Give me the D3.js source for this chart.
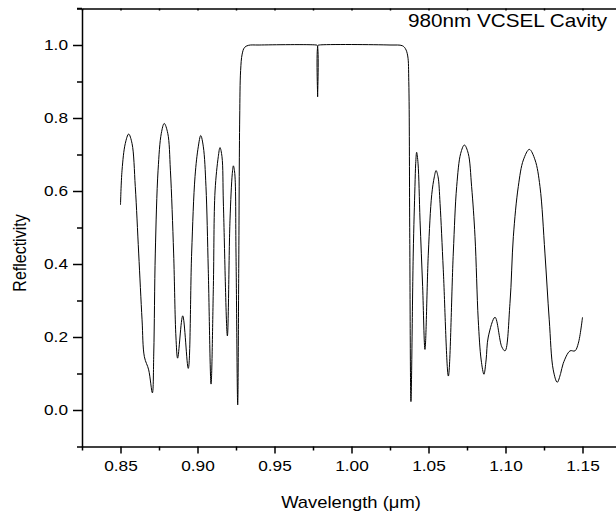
<!DOCTYPE html>
<html>
<head>
<meta charset="utf-8">
<script src="https://cdn.jsdelivr.net/npm/d3@7"></script>
<style>
  body { margin: 0; background: #fff; }
  svg text { font-family: "Liberation Sans", Arial, sans-serif; fill: #000; }
</style>
</head>
<body>
<svg id="chart" width="616" height="521"></svg>
<script>
// wavelength (um) and reflectivity
const wl = [
  0.8500, 0.8510, 0.8531, 0.8553, 0.8575, 0.8596, 0.8618, 0.8640, 0.8655, 0.8683,
  0.8707, 0.8716, 0.8726, 0.8744, 0.8765, 0.8784, 0.8807, 0.8824, 0.8845, 0.8860,
  0.8871, 0.8904, 0.8940, 0.8962, 0.8984, 0.9005, 0.9021, 0.9038, 0.9055, 0.9070,
  0.9088, 0.9103, 0.9114, 0.9135, 0.9146, 0.9159, 0.9168, 0.9194, 0.9211, 0.9226,
  0.9233, 0.9242, 0.9250, 0.9261, 0.9268, 0.9274, 0.9280, 0.9290, 0.9305, 0.9330,
  0.9400, 0.9770, 0.9777, 0.9780, 0.9783, 0.9790, 1.0250, 1.0330, 1.0350, 1.0365,
  1.0372, 1.0378, 1.0386, 1.0401, 1.0412, 1.0417, 1.0423, 1.0432, 1.0445, 1.0462,
  1.0477, 1.0499, 1.0521, 1.0538, 1.0549, 1.0562, 1.0575, 1.0596, 1.0629, 1.0661,
  1.0683, 1.0709, 1.0733, 1.0758, 1.0780, 1.0802, 1.0823, 1.0842, 1.0860, 1.0874,
  1.0888, 1.0932, 1.0976, 1.0997, 1.1029, 1.1051, 1.1083, 1.1116, 1.1155, 1.1192,
  1.1224, 1.1256, 1.1284, 1.1310, 1.1336, 1.1358, 1.1375, 1.1419, 1.1451, 1.1473,
  1.1500
];
const refl = [
  0.562, 0.657, 0.730, 0.756, 0.730, 0.612, 0.430, 0.247, 0.146, 0.110,
  0.047, 0.156, 0.430, 0.657, 0.758, 0.785, 0.758, 0.657, 0.430, 0.200,
  0.142, 0.258, 0.114, 0.430, 0.640, 0.721, 0.752, 0.721, 0.612, 0.384,
  0.071, 0.338, 0.600, 0.694, 0.719, 0.694, 0.567, 0.203, 0.520, 0.648,
  0.669, 0.648, 0.430, 0.014, 0.400, 0.800, 0.930, 0.975, 0.993, 0.999,
  1.000, 1.000, 0.999, 0.858, 0.999, 1.000, 1.000, 0.998, 0.990, 0.970,
  0.900, 0.500, 0.023, 0.430, 0.612, 0.676, 0.706, 0.676, 0.520, 0.338,
  0.166, 0.430, 0.590, 0.639, 0.656, 0.639, 0.566, 0.384, 0.093, 0.430,
  0.612, 0.703, 0.726, 0.703, 0.612, 0.475, 0.247, 0.137, 0.098, 0.137,
  0.200, 0.254, 0.173, 0.162, 0.292, 0.475, 0.612, 0.685, 0.714, 0.685,
  0.612, 0.430, 0.247, 0.110, 0.076, 0.100, 0.128, 0.162, 0.162, 0.183,
  0.254
];

const xMajor = [0.85, 0.90, 0.95, 1.00, 1.05, 1.10, 1.15];
const xMinor = [0.825, 0.875, 0.925, 0.975, 1.025, 1.075, 1.125, 1.175];
const yMajor = [0.0, 0.2, 0.4, 0.6, 0.8, 1.0];
const yMinor = [-0.1, 0.1, 0.3, 0.5, 0.7, 0.9, 1.1];

const title = "980nm VCSEL Cavity";
const xLabel = "Wavelength (\u03bcm)";
const yLabel = "Reflectivity";

const svg = d3.select("#chart");
const stretch = 1.15;

const x = d3.scaleLinear().domain([0.825, 1.175]).range([82, 621]);
const y = d3.scaleLinear().domain([-0.1, 1.1]).range([446.5, 8.5]);

// bottom axis, major + minor
const gx = svg.append("g").attr("transform", "translate(0,446.5)")
  .call(d3.axisBottom(x).tickValues(xMajor).tickSize(7).tickSizeOuter(0).tickPadding(4)
    .tickFormat(d3.format(".2f")));
gx.append("g").call(d3.axisBottom(x).tickValues(xMinor).tickSize(4).tickFormat(""))
  .select(".domain").remove();
gx.selectAll(".tick text").attr("font-size", 15).attr("dy", "0.9em")
  .attr("transform", `scale(${stretch},1)`);

// left axis
const gy = svg.append("g").attr("transform", "translate(82,0)")
  .call(d3.axisLeft(y).tickValues(yMajor).tickSize(9).tickSizeOuter(0).tickPadding(5)
    .tickFormat(d3.format(".1f")));
gy.append("g").call(d3.axisLeft(y).tickValues(yMinor).tickSize(5).tickFormat(""))
  .select(".domain").remove();
gy.selectAll(".tick text").attr("font-size", 15)
  .attr("x", -14 / stretch).attr("transform", `scale(${stretch},1)`);

// top frame line with tiny inward ticks
svg.append("g").attr("transform", "translate(0,8.5)")
  .call(d3.axisTop(x).tickValues(xMajor.concat(xMinor)).tickSize(-2).tickSizeOuter(0).tickFormat(""));

svg.selectAll(".domain, .tick line").attr("stroke", "#000").attr("stroke-width", 1.5);
svg.append("line").attr("x1", 77).attr("x2", 82).attr("y1", y(1.1)).attr("y2", y(1.1))
  .attr("stroke", "#000").attr("stroke-width", 1.5);

const line = d3.line()
  .x(d => x(d[0]))
  .y(d => y(d[1]))
  .curve(d3.curveCatmullRom.alpha(0.5));

svg.append("path")
  .datum(d3.zip(wl, refl))
  .attr("d", line)
  .attr("fill", "none")
  .attr("stroke", "#000")
  .attr("stroke-width", 1);

svg.append("text")
  .attr("transform", `translate(408,27) scale(${stretch},1)`)
  .attr("font-size", 18)
  .text(title);

svg.append("text")
  .attr("transform", `translate(351,508) scale(${stretch},1)`)
  .attr("text-anchor", "middle")
  .attr("font-size", 16)
  .text(xLabel);

svg.append("text")
  .attr("transform", `translate(26,253) rotate(-90) scale(1,${stretch})`)
  .attr("text-anchor", "middle")
  .attr("font-size", 16)
  .text(yLabel);
</script>
</body>
</html>
